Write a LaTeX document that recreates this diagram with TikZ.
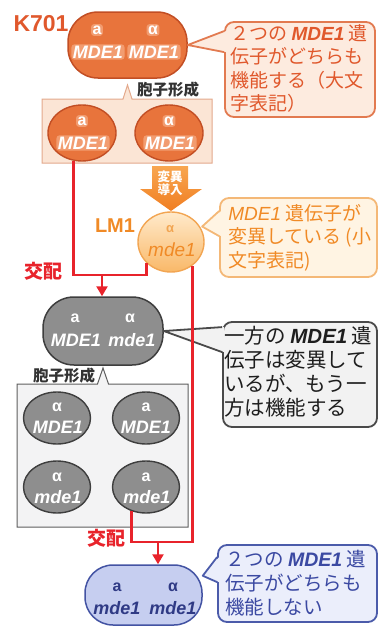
\documentclass[tikz,border=0pt]{standalone}
\usepackage{fontspec}
\setmainfont{Noto Sans CJK JP}
\newfontfamily\lat{Liberation Sans}
\usetikzlibrary{shapes.geometric,calc,arrows.meta}
\definecolor{kOr}{HTML}{E8743C}
\definecolor{kOrD}{HTML}{C24E24}
\definecolor{kOrL}{HTML}{F29C70}
\definecolor{kTxt}{HTML}{E0582C}
\definecolor{cAfill}{HTML}{FDEBDF}
\definecolor{cAbord}{HTML}{E27A50}
\definecolor{boxOr}{HTML}{FBE5D5}
\definecolor{boxOrB}{HTML}{E3A98C}
\definecolor{redL}{HTML}{E8232B}
\definecolor{arrOr}{HTML}{F07E22}
\definecolor{arrOrL}{HTML}{F8A650}
\definecolor{lmTxt}{HTML}{F08A26}
\definecolor{lmFill}{HTML}{F9B868}
\definecolor{lmTop}{HTML}{FFEACB}
\definecolor{lmBord}{HTML}{F2A552}
\definecolor{cBfill}{HTML}{FFF4E3}
\definecolor{cBbord}{HTML}{F4B877}
\definecolor{gFill}{HTML}{8E8E8E}
\definecolor{gBord}{HTML}{3E3E3E}
\definecolor{gBox}{HTML}{F3F3F4}
\definecolor{gBoxB}{HTML}{5E5E5E}
\definecolor{cCfill}{HTML}{F2F2F2}
\definecolor{cCbord}{HTML}{4A4A4A}
\definecolor{cCtxt}{HTML}{1E1E1E}
\definecolor{bFill}{HTML}{C6CEF0}
\definecolor{bBord}{HTML}{4353A3}
\definecolor{bTxt}{HTML}{2F3A85}
\definecolor{cDfill}{HTML}{EBEEFB}
\definecolor{cDbord}{HTML}{4B5BAA}
\definecolor{cDtxt}{HTML}{3B49A2}
\definecolor{labTxt}{HTML}{333333}
\newcommand\mde{{\lat\bfseries\itshape MDE1}}
\begin{document}
\begin{tikzpicture}[x=1pt,y=-1pt,
  lbl/.style={inner sep=0pt, font=\lat\bfseries\fontsize{18}{18}\selectfont\itshape},
  sym/.style={inner sep=0pt, font=\lat\bfseries\fontsize{16}{16}\selectfont},
  olab/.style={fill=kOrL, rounded corners=3pt, inner sep=1.5pt, text=white},
  spore/.style={ellipse, inner sep=0pt, line width=1.4pt},
  bigcell/.style={rectangle, inner sep=0pt, line width=1.5pt},
  callout/.style={rectangle, rounded corners=9pt, line width=1.8pt, inner sep=0pt},
  ctext/.style={anchor=west, inner sep=0pt, align=left},
  redline/.style={draw=redL, line width=2.6pt},
  sporelab/.style={inner sep=0pt, text=labTxt, font=\bfseries\fontsize{15.5}{15.5}\selectfont},
  matelab/.style={inner sep=0pt, text=redL, font=\bfseries\fontsize{19}{19}\selectfont}]
\useasboundingbox (0,0) rectangle (388,629);

% ---------- K701 ----------
\node[inner sep=0pt, text=kTxt, font=\lat\bfseries\fontsize{23}{23}\selectfont] (k701lab) at (41,24) {K701};
\node[bigcell, rounded corners=30pt, minimum width=119pt, minimum height=66pt, fill=kOr, draw=kOrD] (k701) at (127.5,45) {};
\node[sym, olab] at (97,30) {a};
\node[sym, olab] at (153,30) {α};
\node[lbl, olab] at (98,52) {MDE1};
\node[lbl, olab] at (154,52) {MDE1};

% spore box 1
\path[fill=boxOr, draw=boxOrB, line width=1pt] (42,99) -- (123,99) -- (127.5,85) -- (132,99) -- (212,99) -- (212,163) -- (42,163) -- cycle;
\node[sporelab] (spl1) at (168,90) {胞子形成};
\node[spore, minimum width=68pt, minimum height=56pt, fill=kOr, draw=kOrD] (s1) at (82,133) {};
\node[spore, minimum width=68pt, minimum height=56pt, fill=kOr, draw=kOrD] (s2) at (169,133) {};
\node[sym, olab] at (82,121) {a};
\node[lbl, olab] at (83,143) {MDE1};
\node[sym, olab] at (169,121) {α};
\node[lbl, olab] at (170,143) {MDE1};

% mutagenesis arrow
\path[top color=arrOrL, bottom color=arrOr] (152,166) -- (188,166) -- (188,189) -- (202,189) -- (171,211) -- (140,189) -- (152,189) -- cycle;
\node[inner sep=0pt, text=white, align=center, font=\bfseries\fontsize{12.5}{13.5}\selectfont] (mut) at (170,183) {変異\\導入};

% ---------- LM1 ----------
\node[inner sep=0pt, text=lmTxt, font=\lat\bfseries\fontsize{20}{20}\selectfont] (lm1lab) at (115,226) {LM1};
\node[spore, minimum width=66pt, minimum height=60pt, top color=lmTop, bottom color=lmFill, draw=lmBord] (lm1) at (171,242) {};
\node[inner sep=0pt, text=lmBord, font=\lat\bfseries\fontsize{13}{13}\selectfont] at (170,229) {α};
\node[inner sep=0pt, text=lmTxt, font=\lat\itshape\fontsize{19}{19}\selectfont] at (172,250) {mde1};

% ---------- heterozygote ----------
\node[bigcell, rounded corners=31pt, minimum width=120pt, minimum height=68pt, fill=gFill, draw=gBord] (het) at (103,331) {};
\node[sym, text=white] at (75,318) {a};
\node[sym, text=white] at (130,318) {α};
\node[lbl, text=white] at (76,340) {MDE1};
\node[lbl, text=white] at (132,340) {mde1};

% spore box 2
\path[fill=gBox, draw=gBoxB, line width=1pt] (17,384) -- (97.5,384) -- (103,368) -- (108.5,384) -- (188,384) -- (188,527) -- (17,527) -- cycle;
\node[sporelab] (spl2) at (64,376) {胞子形成};
\node[spore, minimum width=67pt, minimum height=52pt, fill=gFill, draw=gBord] (g1) at (57,418) {};
\node[spore, minimum width=67pt, minimum height=52pt, fill=gFill, draw=gBord] (g2) at (146,418) {};
\node[spore, minimum width=67pt, minimum height=52pt, fill=gFill, draw=gBord] (g3) at (57,487) {};
\node[spore, minimum width=67pt, minimum height=52pt, fill=gFill, draw=gBord] (g4) at (146,487) {};
\node[sym, text=white] at (57,407) {α};
\node[lbl, text=white] at (58,427) {MDE1};
\node[sym, text=white] at (146,407) {a};
\node[lbl, text=white] at (146,427) {MDE1};
\node[sym, text=white] at (57,477) {α};
\node[lbl, text=white] at (58,497) {mde1};
\node[sym, text=white] at (146,477) {a};
\node[lbl, text=white] at (147,497) {mde1};

% ---------- double mutant ----------
\node[bigcell, rounded corners=28pt, minimum width=117pt, minimum height=60pt, fill=bFill, draw=bBord] (dbl) at (143.5,595) {};
\node[sym, text=bTxt] at (117,587) {a};
\node[sym, text=bTxt] at (173,587) {α};
\node[lbl, text=bTxt] at (117,608) {mde1};
\node[lbl, text=bTxt] at (173,608) {mde1};

% ---------- callouts ----------
\node[callout, fill=cAfill, draw=cAbord, minimum width=150pt, minimum height=95pt] (cA) at (300,69.5) {};
\fill[cAfill] ($(cA.north west)+(2,10)$) -- (k701.east) -- ($(cA.north west)+(2,31)$) -- cycle;
\draw[cAbord, line width=1.8pt, line join=round] ($(cA.north west)+(0,10)$) -- (k701.east) -- ($(cA.north west)+(0,31)$);
\node[ctext, text=kTxt, font=\fontsize{19}{23.3}\selectfont] (cAt) at ($(cA.west)+(6,-1)$)
  {２つの \mde{} 遺\\伝子がどちらも\\機能する（大文\\字表記）};

\node[callout, fill=cBfill, draw=cBbord, minimum width=157pt, minimum height=79pt] (cB) at (298.5,237.5) {};
\fill[cBfill] ($(cB.north west)+(2,14)$) -- ($(lm1.28)+(2,0)$) -- ($(cB.north west)+(2,39)$) -- cycle;
\draw[cBbord, line width=1.8pt, line join=round] ($(cB.north west)+(0,14)$) -- ($(lm1.28)+(2,0)$) -- ($(cB.north west)+(0,39)$);
\node[ctext, text=lmTxt, font=\fontsize{19}{23.5}\selectfont] (cBt) at ($(cB.west)+(9,0)$)
  {{\lat\itshape MDE1} 遺伝子が\\変異している (小\\文字表記)};

\node[callout, fill=cCfill, draw=cCbord, minimum width=154pt, minimum height=105pt] (cC) at (300,374.5) {};
\fill[cCfill] ($(cC.north west)+(2,6)$) -- (het.east) -- ($(cC.north west)+(2,31)$) -- cycle;
\draw[cCbord, line width=1.8pt, line join=round] ($(cC.north west)+(0,6)$) -- (het.east) -- ($(cC.north west)+(0,31)$);
\node[ctext, text=cCtxt, font=\fontsize{20.5}{24}\selectfont] (cCt) at ($(cC.west)+(2,-3)$)
  {一方の \mde{} 遺\\伝子は変異して\\いるが、もう一\\方は機能する};

\node[callout, fill=cDfill, draw=cDbord, minimum width=159pt, minimum height=77pt] (cD) at (297.5,583.5) {};
\fill[cDfill] ($(cD.north west)+(2,13)$) -- (dbl.18) -- ($(cD.north west)+(2,38)$) -- cycle;
\draw[cDbord, line width=1.8pt, line join=round] ($(cD.north west)+(0,13)$) -- (dbl.18) -- ($(cD.north west)+(0,38)$);
\node[ctext, text=cDtxt, font=\fontsize{19.5}{24}\selectfont] (cDt) at ($(cD.west)+(8,0)$)
  {２つの \mde{} 遺\\伝子がどちらも\\機能しない};

% ---------- crosses ----------
\coordinate (mate1) at (102,275);
\coordinate (mate2) at (158,542);
\draw[redline] (s1.253) |- (mate1) -| (lm1.221);
\draw[redline, -{Triangle[length=10pt,width=11pt]}] (mate1) -- (mate1 |- het.north);
\draw[redline] (g4.239) |- (mate2) -| (lm1.312);
\draw[redline, -{Triangle[length=10pt,width=11pt]}] (mate2) -- (mate2 |- dbl.north);
\node[matelab] (x1) at (43,271) {交配};
\node[matelab] (x2) at (106,538) {交配};
\end{tikzpicture}
\end{document}
